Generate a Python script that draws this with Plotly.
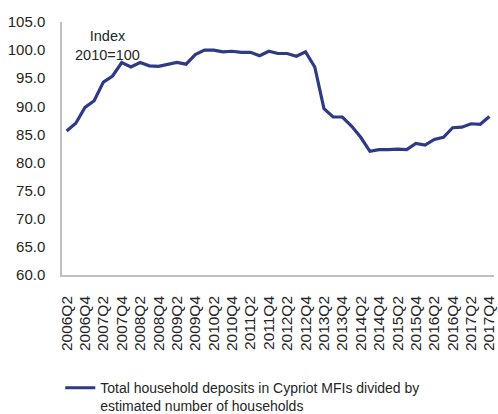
import plotly.graph_objects as go

quarters = [
    "2006Q2", "2006Q3", "2006Q4",
    "2007Q1", "2007Q2", "2007Q3", "2007Q4",
    "2008Q1", "2008Q2", "2008Q3", "2008Q4",
    "2009Q1", "2009Q2", "2009Q3", "2009Q4",
    "2010Q1", "2010Q2", "2010Q3", "2010Q4",
    "2011Q1", "2011Q2", "2011Q3", "2011Q4",
    "2012Q1", "2012Q2", "2012Q3", "2012Q4",
    "2013Q1", "2013Q2", "2013Q3", "2013Q4",
    "2014Q1", "2014Q2", "2014Q3", "2014Q4",
    "2015Q1", "2015Q2", "2015Q3", "2015Q4",
    "2016Q1", "2016Q2", "2016Q3", "2016Q4",
    "2017Q1", "2017Q2", "2017Q3", "2017Q4",
]

deposits_index = [
    85.6, 87.0, 89.8,
    91.0, 94.3, 95.4, 97.8,
    97.0, 97.8, 97.2, 97.1,
    97.4, 97.8, 97.5, 99.2,
    100.0, 100.0, 99.7, 99.8,
    99.6, 99.6, 99.0, 99.8,
    99.4, 99.4, 98.9, 99.7,
    97.0, 89.6, 88.1, 88.1,
    86.5, 84.5, 82.0, 82.3,
    82.3, 82.4, 82.3, 83.4,
    83.1, 84.1, 84.5, 86.2,
    86.3, 86.9, 86.8, 88.2,
]

tick_labels = quarters[::2]
y_ticks = [60, 65, 70, 75, 80, 85, 90, 95, 100, 105]

series_name = "Total household deposits in Cypriot MFIs divided by<br>estimated number of households"

font_family = "Liberation Sans, Arial, sans-serif"
text_color = "#262626"

fig = go.Figure()
fig.add_trace(go.Scatter(
    x=quarters, y=deposits_index, mode="lines", name=series_name,
    line=dict(color="#2e3a86", width=3.2),
))

fig.update_layout(
    width=498, height=414,
    margin=dict(l=62, r=4, t=22, b=139, autoexpand=False),
    paper_bgcolor="white", plot_bgcolor="white",
    font=dict(family=font_family, size=14, color=text_color),
    showlegend=True,
    legend=dict(
        orientation="h", x=-0.004, xanchor="left", y=-0.384, yanchor="top",
        valign="top", font=dict(size=14, color=text_color),
        bgcolor="rgba(0,0,0,0)", itemwidth=30,
    ),
    annotations=[dict(
        text="Index<br>2010=100", xref="paper", yref="paper",
        x=(107 - 62) / 432, y=(275 - 45) / 253, xanchor="center", yanchor="middle",
        showarrow=False, font=dict(size=14.5, color=text_color), align="center",
    )],
)

fig.update_xaxes(
    type="category", categoryorder="array", categoryarray=quarters,
    range=[-0.5, len(quarters) - 0.5],
    tickmode="array", tickvals=tick_labels, ticktext=tick_labels,
    tickangle=-90, showgrid=False, zeroline=False, automargin=False,
    showline=True, linecolor="#bfbfbf", linewidth=1.5, ticks="",
    tickfont=dict(size=15.5, color=text_color), ticklabelstandoff=13,
)
fig.update_yaxes(
    range=[60, 105], tickmode="array", tickvals=y_ticks,
    ticktext=[f"{v:.1f}" for v in y_ticks],
    showgrid=False, zeroline=False, automargin=False,
    showline=True, linecolor="#bfbfbf", linewidth=1.5, ticks="",
    tickfont=dict(size=15, color=text_color), ticklabelstandoff=12,
)

fig.write_html(
    "out.html",
    config={"displayModeBar": False},
    post_script="document.body.style.margin='0';",
)
